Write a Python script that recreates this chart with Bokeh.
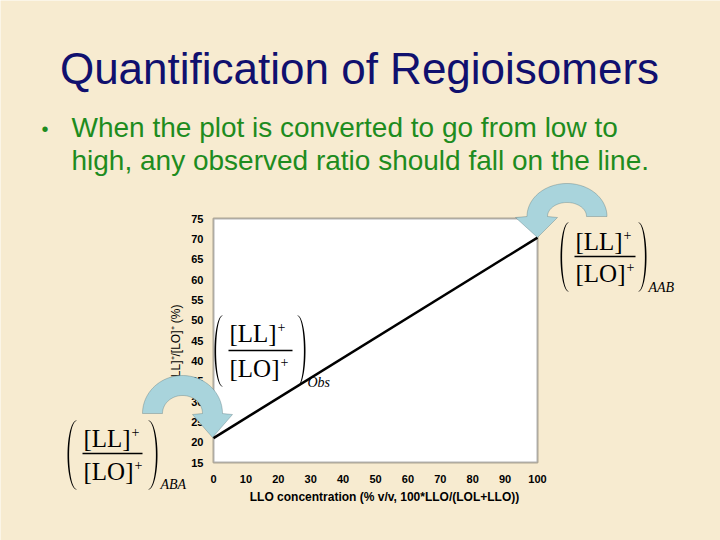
import numpy as np
from bokeh.plotting import figure
from bokeh.models import Label, PolyAnnotation, BoxAnnotation, Range1d, FixedTicker
from bokeh.embed import file_html
from bokeh.resources import INLINE

# ---- data ----
llo_conc = [0, 100]            # LLO concentration (% v/v)
ratio_pct = [21.0, 70.3]       # [LL]+/[LO]+ (%)
x_ticks = [0, 10, 20, 30, 40, 50, 60, 70, 80, 90, 100]
y_ticks = [15, 20, 25, 30, 35, 40, 45, 50, 55, 60, 65, 70, 75]
title_text = "Quantification of Regioisomers"
bullet_lines = ["When the plot is converted to go from low to",
                "high, any observed ratio should fall on the line."]
x_label = "LLO concentration (% v/v, 100*LLO/(LOL+LLO))"
y_label = "[LL]\u207a/[LO]\u207a (%)"

# ---- layout ----
W, H = 720, 540
FL, FR, FT, FB = 213, 537, 218, 462   # plot-area edges in page pixels
X0, X1, Y0, Y1 = 0, 100, 15, 75
BG = "#f7ebd0"
TITLE_C = "#10106e"
GREEN = "#1e8c1e"
ARROW_FILL = "#a9d4dc"
ARROW_LINE = "#3c5a60"
BASE_SHIFT = 0.36   # Label's alphabetic anchor sits this many em below the glyph baseline


def X(px):
    return X0 + (px - FL) * (X1 - X0) / (FR - FL)


def Y(py):
    return Y1 - (py - FT) * (Y1 - Y0) / (FB - FT)


p = figure(width=W, height=H, output_backend="svg", toolbar_location=None,
           x_range=Range1d(X(0), X(W)), y_range=Range1d(Y(H), Y(0)),
           min_border=0)
p.background_fill_color = BG
p.border_fill_color = BG
p.outline_line_color = None
p.xgrid.visible = False
p.ygrid.visible = False

# white plot area with black border
p.add_layout(BoxAnnotation(left=X0, right=X1, bottom=Y0, top=Y1, fill_color="white",
                           fill_alpha=1.0, line_color="black", line_width=2, level="underlay"))

for ax in (p.xaxis[0], p.yaxis[0]):
    ax.axis_line_color = None
    ax.major_tick_line_color = None
    ax.minor_tick_line_color = None
    ax.major_label_text_font = "Liberation Sans"
    ax.major_label_text_font_style = "bold"
    ax.major_label_text_font_size = "11px"
    ax.major_label_text_color = "black"
    ax.axis_label_text_font = "Liberation Sans"
    ax.axis_label_text_font_size = "12px"
    ax.axis_label_text_color = "black"

p.xaxis.fixed_location = Y0
p.yaxis.fixed_location = X0
# axis extents (used to centre the axis titles as in the original)
p.xaxis.bounds = (X(213), X(555))
p.yaxis.bounds = (Y(382), Y(302))
p.xaxis.ticker = FixedTicker(ticks=x_ticks)
p.yaxis.ticker = FixedTicker(ticks=y_ticks)
p.xaxis.major_label_standoff = 6
p.yaxis.major_label_standoff = 4
p.xaxis.axis_label = x_label
p.xaxis.axis_label_text_font_style = "bold"
p.xaxis.axis_label_standoff = 4
p.yaxis.axis_label = y_label
p.yaxis.axis_label_text_font_style = "normal"
p.yaxis.axis_label_standoff = 5

p.line(llo_conc, ratio_pct, line_color="black", line_width=2.5)


def label(px, py, text, size, font="Liberation Sans", color="black",
          align="left", style="normal"):
    # py is the wanted glyph baseline in page pixels
    p.add_layout(Label(x=px, y=py - BASE_SHIFT * size, x_units="canvas", y_units="canvas",
                       text=text, text_font=font,
                       text_font_size=f"{size}px", text_color=color,
                       text_align=align, text_baseline="alphabetic",
                       text_font_style=style))


label(359, 84, title_text, 44, color=TITLE_C, align="center")
label(41, 136, "\u2022", 20, color=GREEN)
label(71, 137, bullet_lines[0], 28, color=GREEN)
label(71, 170, bullet_lines[1], 28, color=GREEN)


def poly(pts, fill, line, lw=1.0):
    xs = [float(a) for a, b in pts]
    ys = [float(b) for a, b in pts]
    p.add_layout(PolyAnnotation(xs=xs, ys=ys, xs_units="canvas", ys_units="canvas",
                                fill_color=fill, fill_alpha=1.0,
                                line_color=line, line_width=lw))


def paren(x_end, bulge, top, bottom, th=1.6):
    t = np.linspace(-np.pi / 2, np.pi / 2, 40)
    cy = (top + bottom) / 2
    h = (bottom - top) / 2
    w = x_end - bulge
    sgn = 1 if w > 0 else -1
    w = abs(w)
    outer = [(x_end - sgn * w * np.cos(a), cy + h * np.sin(a)) for a in t]
    inner = [(x_end - sgn * (w - th) * np.cos(a), cy + (h - 0.5) * np.sin(a)) for a in t[::-1]]
    poly(outer + inner, "black", None)


def hbar(x0, x1, y, th=1.4):
    poly([(x0, y - th / 2), (x1, y - th / 2), (x1, y + th / 2), (x0, y + th / 2)], "black", None)


def fraction(left, base_top, base_bot, line_y, line_x1, lp, rp, sub, sub_x, sub_y):
    label(left, base_top, "[LL]", 25, font="Liberation Serif")
    label(left + 48, base_top - 10, "+", 14, font="Liberation Serif")
    hbar(left - 1, line_x1, line_y)
    label(left, base_bot, "[LO]", 25, font="Liberation Serif")
    label(left + 51, base_bot - 10, "+", 14, font="Liberation Serif")
    paren(*lp)
    paren(*rp)
    label(sub_x, sub_y, sub, 14, font="Liberation Serif", style="italic")


fraction(229, 342, 377, 350, 292, (222, 214, 315, 386), (297, 305, 315, 386), "Obs", 307, 387)
fraction(83, 447, 480, 453, 142, (76, 67, 420, 489), (148, 157, 420, 489), "ABA", 160, 489)
fraction(575, 250, 282, 256, 635, (568, 560, 222, 291), (638, 646, 222, 291), "AAB", 648, 292)


def curved_arrow(cx, cy, rxo, ryo, rxi, ryi, head, side):
    t = np.linspace(np.pi, 0, 60)
    outer = [(cx + rxo * np.cos(a), cy - ryo * np.sin(a)) for a in t]
    inner = [(cx + rxi * np.cos(a), cy - ryi * np.sin(a)) for a in t[::-1]]
    (b0, b1, by, tx, ty) = head
    if side == "right":
        pts = outer + [(b1, by), (tx, ty), (b0, by)] + inner
    else:
        pts = outer[::-1] + [(b0, by), (tx, ty), (b1, by)] + inner[::-1]
    poly(pts, ARROW_FILL, ARROW_LINE)


curved_arrow(182, 413, 40, 38, 20, 18, (192, 232, 414, 212, 437), "right")
curved_arrow(566.5, 216, 40, 33, 19.5, 14, (515, 557, 217, 537, 237), "left")

open("out.html", "w").write(file_html(p, INLINE))
